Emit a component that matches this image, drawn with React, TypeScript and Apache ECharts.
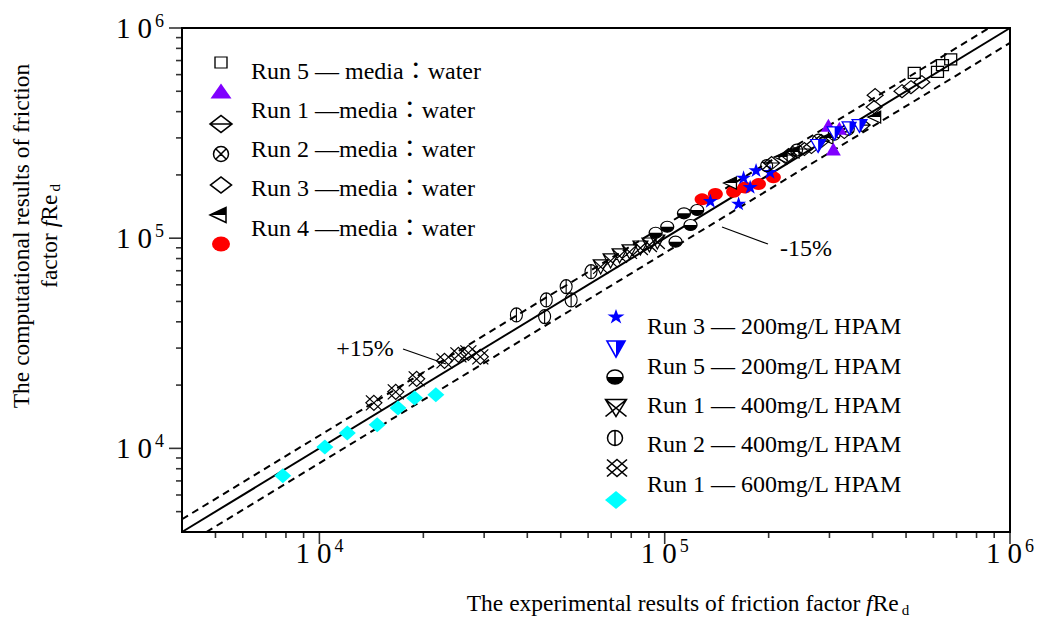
import React, { useEffect, useRef } from 'react';
import * as echarts from 'echarts';

const SERIF = "'Liberation Serif', 'Times New Roman', 'Noto Sans CJK TC', serif";

const AXIS_MIN = 4000;
const AXIS_MAX = 1000000;
const BAND = 0.15;

const X_MAJOR_TICKS = [10000, 100000, 1000000];
const X_MINOR_TICKS = [5000, 6000, 7000, 8000, 9000, 20000, 30000, 40000, 50000, 60000, 70000, 80000, 90000, 200000, 300000, 400000, 500000, 600000, 700000, 800000, 900000];
const Y_MAJOR_TICKS = [10000, 100000, 1000000];
const Y_MINOR_TICKS = [5000, 6000, 7000, 8000, 9000, 20000, 30000, 40000, 50000, 60000, 70000, 80000, 90000, 200000, 300000, 400000, 500000, 600000, 700000, 800000, 900000];

// [experimental fRe_d, computational fRe_d]
const waterSquare = [[528100, 611700], [616600, 618600], [637400, 665600], [673400, 708600]];
const waterTriangle = [[297900, 344800], [307900, 265500], [320500, 333800]];
const waterDiamondBar = [[204000, 227800], [228400, 248600], [253900, 265500], [284300, 289700], [331200, 319800], [373200, 345100]];
const waterCircleCross = [[197400, 221600], [240900, 262600], [278700, 292900], [309900, 312700], [340100, 330400]];
const waterDiamond = [[225400, 240500], [266000, 271400], [406900, 479300], [404200, 420300], [486600, 500600], [516600, 523100], [555500, 552600]];
const waterHalfTriangle = [[154500, 183000], [216600, 243200], [234600, 256800], [293900, 299400], [404200, 376700]];
const waterDot = [[128300, 153000], [140200, 162300], [158300, 166300], [170700, 174000], [186900, 180900], [206400, 194700]];

const hpamStar = [[135600, 150800], [163700, 146500], [169200, 194800], [176800, 175700], [183900, 211000], [201800, 207100]];
const hpamHalfTriangle = [[278200, 274400], [310600, 315100], [343100, 333000], [366600, 341500]];
const hpamHalfCircle = [[94140, 106200], [101700, 113400], [107500, 96250], [113700, 131300], [118800, 115500], [124200, 136100]];
const hpamHourglass = [[65250, 72970], [69700, 77930], [74000, 82310], [79070, 86000], [85040, 89830], [90300, 92830], [95210, 95920]];
const hpamCircleBar = [[37200, 43150], [45400, 50850], [44900, 42370], [51830, 58820], [53580, 50850], [61170, 69310]];
const hpamLattice = [[14380, 16470], [16640, 18580], [19130, 21420], [23030, 26090], [25270, 27860], [27000, 28470], [29240, 27250]];
const hpamDiamond = [[7834, 7413], [10370, 10140], [12047, 11820], [14700, 12950], [16890, 15540], [18870, 17340], [21740, 17980]];

const WATER_LABELS = ['Run 5 — media：water', 'Run 1 —media：water', 'Run 2 —media：water', 'Run 3 —media：water', 'Run 4 —media：water'];
const HPAM_LABELS = ['Run 3 — 200mg/L HPAM', 'Run 5 — 200mg/L HPAM', 'Run 1 — 400mg/L HPAM', 'Run 2 — 400mg/L HPAM', 'Run 1 — 600mg/L HPAM'];

const P: Record<string, string> = {
  square: 'M0,0 L20,0 L20,20 L0,20 Z',
  triUp: 'M10,0 L20,20 L0,20 Z',
  diamond: 'M10,0 L20,10 L10,20 L0,10 Z',
  diamondBar: 'M10,0 L20,10 L10,20 L0,10 Z M0,10 L20,10',
  circle: 'M20,10 A10,10 0 1 1 0,10 A10,10 0 1 1 20,10 Z',
  circleCross: 'M20,10 A10,10 0 1 1 0,10 A10,10 0 1 1 20,10 Z M2.93,2.93 L17.07,17.07 M17.07,2.93 L2.93,17.07',
  triLeft: 'M0,10 L20,0 L20,20 Z',
  triLeftTop: 'M0,20 M0,10 L20,0 L20,10 Z',
  star: 'M10,0 L12.25,6.91 L19.51,6.91 L13.63,11.18 L15.88,18.09 L10,13.82 L4.12,18.09 L6.37,11.18 L0.49,6.91 L7.75,6.91 Z',
  triDown: 'M0,0 L20,0 L10,20 Z',
  triDownRight: 'M0,0 M10,0 L20,0 L10,20 Z',
  circleLower: 'M0,0 M0,10 A10,10 0 0 0 20,10 Z',
  hourglass: 'M0,0 L20,0 L10,20 Z M0,0 L20,20 M20,0 L0,20',
  circleBar: 'M20,10 A10,10 0 1 1 0,10 A10,10 0 1 1 20,10 Z M10,0 L10,20',
  lattice: 'M10,0 L20,10 L10,20 L0,10 Z M0,0 L20,20 M20,0 L0,20',
};

const pathSym = (k: string) => 'path://' + P[k];

function sc(name: string, data: number[][], symbol: string, size: number[], color: string, border: string | null, z = 3) {
  return {
    type: 'scatter',
    name,
    data,
    symbol,
    symbolSize: size,
    silent: true,
    z,
    itemStyle: { color, borderColor: border || 'rgba(0,0,0,0)', borderWidth: border ? 1.2 : 0, opacity: 1 },
    emphasis: { disabled: true },
  };
}

function tickSeries(data: number[][], size: number[], offset: number[]) {
  return {
    type: 'scatter',
    data,
    symbol: 'rect',
    symbolSize: size,
    symbolOffset: offset,
    clip: false,
    silent: true,
    z: 10,
    itemStyle: { color: '#000' },
    emphasis: { disabled: true },
  };
}

const powLabel = (v: number) => {
  const e = Math.round(Math.log10(v));
  if (Math.abs(v / Math.pow(10, e) - 1) > 1e-6) return '';
  return `{o|1}{z|0}{s|${e}}`;
};

const axisRich = {
  o: { fontFamily: SERIF, fontSize: 29, color: '#000', lineHeight: 32, verticalAlign: 'middle' },
  z: { fontFamily: SERIF, fontSize: 29, color: '#000', lineHeight: 32, verticalAlign: 'middle', padding: [0, 0, 0, 7] },
  s: { fontFamily: SERIF, fontSize: 18, color: '#000', lineHeight: 16, verticalAlign: 'top', padding: [0, 0, 0, 3] },
};

function legendSym(k: string, cx: number, cy: number, w: number, h: number, fill: string, stroke: string | null, lw = 1.3) {
  return {
    type: 'sym_' + k,
    x: cx - w / 2,
    y: cy - h / 2,
    scaleX: w / 20,
    scaleY: h / 20,
    silent: true,
    z: 20,
    style: { fill, stroke: stroke || 'none', lineWidth: stroke ? lw : 0, strokeNoScale: true },
  };
}

export default function App() {
  const ref = useRef<HTMLDivElement>(null);
  useEffect(() => {
    if (!ref.current) return;
    Object.keys(P).forEach((k) => {
      echarts.graphic.registerShape('sym_' + k, echarts.graphic.extendPath(P[k], {}) as any);
    });
    const chart = echarts.init(ref.current, null, { renderer: 'svg' });

    const upper = [[AXIS_MIN, AXIS_MIN * (1 + BAND)], [AXIS_MAX / (1 + BAND), AXIS_MAX]];
    const lower = [[AXIS_MIN / (1 - BAND), AXIS_MIN], [AXIS_MAX, AXIS_MAX * (1 - BAND)]];
    const diag = [[AXIS_MIN, AXIS_MIN], [AXIS_MAX, AXIS_MAX]];

    const lineS = (data: number[][], dashed: boolean) => ({
      type: 'line',
      data,
      symbol: 'none',
      silent: true,
      z: 2,
      lineStyle: { color: '#000', width: 2, type: dashed ? [7, 5] : 'solid' },
      emphasis: { disabled: true },
    });

    const legendTextStyle = { fontFamily: SERIF, fontSize: 24, fill: '#000' };
    const graphics: any[] = [];
    const waterY = [71, 110, 149, 188, 228];
    WATER_LABELS.forEach((t, i) => graphics.push({ type: 'text', x: 251, y: waterY[i], silent: true, style: { ...legendTextStyle, text: t, align: 'left', verticalAlign: 'middle' } }));
    const hpamY = [326, 366, 405, 444, 484];
    HPAM_LABELS.forEach((t, i) => graphics.push({ type: 'text', x: 647, y: hpamY[i], silent: true, style: { ...legendTextStyle, text: t, align: 'left', verticalAlign: 'middle' } }));

    graphics.push(
      legendSym('square', 221, 62.5, 12, 11, 'none', '#000'),
      legendSym('triUp', 221, 91, 21, 15, '#8000ff', null),
      legendSym('diamondBar', 221, 124, 22, 17, 'none', '#000', 1.6),
      legendSym('circleCross', 221, 154, 15, 15, 'none', '#000', 1.5),
      legendSym('diamond', 221, 185, 21, 16, 'none', '#000', 1.6),
      legendSym('triLeft', 218, 215, 16, 15, '#fff', '#000', 1.5),
      legendSym('triLeftTop', 218, 215, 16, 15, '#000', null),
      legendSym('circle', 221, 244, 18, 15, '#ff0000', null),
      legendSym('star', 616, 317, 18, 16, '#0000ff', null),
      legendSym('triDown', 616, 349, 18, 16, '#fff', '#0000ff', 1.6),
      legendSym('triDownRight', 616, 349, 18, 16, '#0000ff', null),
      legendSym('circle', 615, 377, 16, 14, '#fff', '#000', 1.5),
      legendSym('circleLower', 615, 377, 16, 14, '#000', null),
      legendSym('hourglass', 616, 408, 21, 17, 'none', '#000', 1.5),
      legendSym('circleBar', 615, 438, 15, 15, 'none', '#000', 1.5),
      legendSym('lattice', 617, 468, 20, 17, 'none', '#000', 1.5),
      legendSym('diamond', 616, 500, 22, 18, '#00ffff', null),
    );

    // annotations
    graphics.push(
      { type: 'text', x: 365, y: 348, silent: true, style: { text: '+15%', fontFamily: SERIF, fontSize: 24, fill: '#000', align: 'center', verticalAlign: 'middle' } },
      { type: 'line', silent: true, shape: { x1: 403, y1: 349, x2: 446, y2: 364 }, style: { stroke: '#000', lineWidth: 1.2 } },
      { type: 'text', x: 806, y: 248, silent: true, style: { text: '-15%', fontFamily: SERIF, fontSize: 24, fill: '#000', align: 'center', verticalAlign: 'middle' } },
      { type: 'line', silent: true, shape: { x1: 722, y1: 227, x2: 768, y2: 244 }, style: { stroke: '#000', lineWidth: 1.2 } },
    );

    const titleRich = {
      n: { fontFamily: SERIF, fontSize: 23.5, color: '#000', lineHeight: 28 },
      i: { fontFamily: SERIF, fontSize: 23.5, fontStyle: 'italic', color: '#000', lineHeight: 28 },
      s: { fontFamily: SERIF, fontSize: 15, color: '#000', lineHeight: 14, verticalAlign: 'bottom', padding: [0, 0, 0, 3] },
    };
    graphics.push(
      { type: 'text', x: 688, y: 603, silent: true, style: { text: '{n|The experimental results of friction factor }{i|f}{n|Re}{s|d}', rich: titleRich, align: 'center', verticalAlign: 'middle', fontFamily: SERIF } },
      { type: 'text', x: 35, y: 236, rotation: Math.PI / 2, silent: true, style: { text: '{n|The computational results of friction}\n{n|factor }{i|f}{n|Re}{s|d}', rich: titleRich, align: 'center', verticalAlign: 'middle', fontFamily: SERIF } },
    );

    const axisCommon = {
      type: 'log',
      logBase: 10,
      min: AXIS_MIN,
      max: AXIS_MAX,
      axisLine: { show: true, lineStyle: { color: '#000', width: 2 } },
      axisTick: { show: false },
      splitLine: { show: false },
      minorTick: { show: false },
    };

    chart.setOption({
      animation: false,
      backgroundColor: '#fff',
      grid: { left: 182, top: 28, width: 832, height: 504, show: true, borderColor: '#000', borderWidth: 2, backgroundColor: 'transparent' },
      xAxis: { ...axisCommon, axisLabel: { formatter: powLabel, rich: axisRich, margin: 5, showMinLabel: false } },
      yAxis: { ...axisCommon, axisLabel: { formatter: powLabel, rich: axisRich, margin: 18, showMinLabel: false } },
      series: [
        lineS(diag, false),
        lineS(upper, true),
        lineS(lower, true),
        sc('Run 1 — 600mg/L HPAM', hpamDiamond, 'diamond', [17, 15], '#00ffff', null),
        sc('HPAM lattice', hpamLattice, pathSym('lattice'), [16, 15], 'rgba(0,0,0,0)', '#000'),
        sc('Run 2 — 400mg/L HPAM', hpamCircleBar, pathSym('circleBar'), [12, 14], 'rgba(0,0,0,0)', '#000'),
        sc('Run 1 — 400mg/L HPAM', hpamHourglass, pathSym('hourglass'), [15, 14], 'rgba(0,0,0,0)', '#000'),
        sc('HPAM half circle', hpamHalfCircle, pathSym('circle'), [13, 11], '#fff', '#000'),
        sc('HPAM half circle fill', hpamHalfCircle, pathSym('circleLower'), [13, 11], '#000', null),
        sc('Run 4 —media：water', waterDot, 'circle', [15, 12], '#ff0000', null),
        sc('Run 3 — 200mg/L HPAM', hpamStar, pathSym('star'), [15, 14], '#0000ff', null),
        sc('water half triangle', waterHalfTriangle, pathSym('triLeft'), [13, 12], '#fff', '#000'),
        sc('water half triangle fill', waterHalfTriangle, pathSym('triLeftTop'), [13, 12], '#000', null),
        sc('water diamond bar', waterDiamondBar, pathSym('diamondBar'), [16, 13], 'rgba(0,0,0,0)', '#000'),
        sc('Run 2 —media：water', waterCircleCross, pathSym('circleCross'), [12, 12], 'rgba(0,0,0,0)', '#000'),
        sc('Run 3 —media：water', waterDiamond, 'diamond', [16, 13], 'rgba(0,0,0,0)', '#000'),
        sc('Run 5 — media：water', waterSquare, 'rect', [12, 11], 'rgba(0,0,0,0)', '#000'),
        sc('Run 1 —media：water', waterTriangle, 'triangle', [15, 13], '#8000ff', null),
        sc('Run 5 — 200mg/L HPAM', hpamHalfTriangle, pathSym('triDown'), [15, 13], '#fff', '#0000ff'),
        sc('HPAM half triangle fill', hpamHalfTriangle, pathSym('triDownRight'), [15, 13], '#0000ff', null),
        tickSeries(X_MAJOR_TICKS.map((v) => [v, AXIS_MIN]), [1.6, 12], [0, 6]),
        tickSeries(X_MINOR_TICKS.map((v) => [v, AXIS_MIN]), [1.6, 6], [0, 3]),
        tickSeries(Y_MAJOR_TICKS.map((v) => [AXIS_MIN, v]), [13, 1.6], [-6.5, 0]),
        tickSeries(Y_MINOR_TICKS.map((v) => [AXIS_MIN, v]), [6, 1.6], [-3, 0]),
      ],
      graphic: graphics,
    });
    return () => chart.dispose();
  }, []);
  return <div ref={ref} style={{ position: 'fixed', left: 0, top: 0, width: 1037, height: 617, background: '#fff' }} />;
}
